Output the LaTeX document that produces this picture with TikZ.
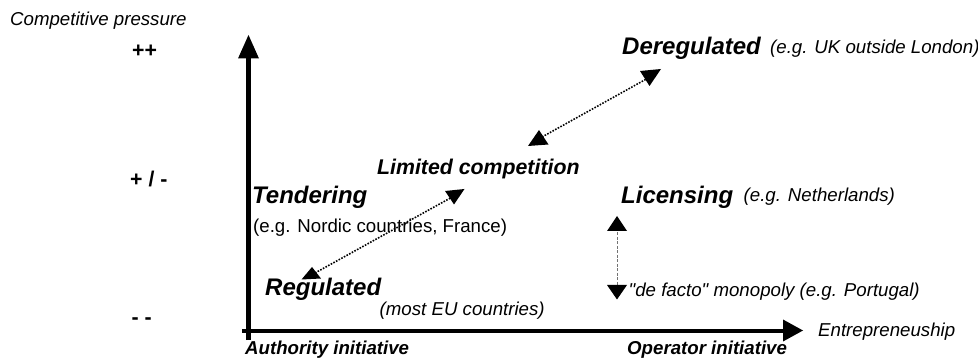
\documentclass[tikz,border=0pt]{standalone}
\usepackage{fontspec}
\setmainfont{Liberation Sans}[Ligatures=TeXOff]
\begin{document}
\begin{tikzpicture}[x=1pt,y=-1pt,
  txt/.style={inner sep=0pt, anchor=base west},
  note/.style={txt, font=\fontsize{18.67}{22}\selectfont\itshape},
  plain/.style={txt, font=\fontsize{18.67}{22}\selectfont},
  regime/.style={txt, font=\fontsize{24}{28}\selectfont\bfseries\itshape},
  midregime/.style={txt, font=\fontsize{21.3}{25}\selectfont\bfseries\itshape},
  level/.style={txt, font=\fontsize{21.3}{25}\selectfont\bfseries},
  pole/.style={txt, font=\fontsize{18.67}{22}\selectfont\bfseries\itshape},
  axisline/.style={line width=4.3pt},
  tiphead/.style={fill=black},
  dotline/.style={line width=1.6pt, dash pattern=on 1.6pt off 1.4pt},
  thinline/.style={line width=0.6pt, black!55, dash pattern=on 3pt off 1.5pt}]
\useasboundingbox (0,0) rectangle (978,358);

% axes
\coordinate (yfoot) at (248.5,340);
\coordinate (ytop) at (248.5,57);
\coordinate (xfoot) at (242,331);
\coordinate (xend) at (784,331);
\draw[axisline] (yfoot) -- (ytop);
\draw[axisline] (xfoot) -- (xend);
\fill[tiphead] (248.5,35) -- (259,58.5) -- (238,58.5) -- cycle;
\fill[tiphead] (803,330.5) -- (783,341.5) -- (783,319.5) -- cycle;

% axis captions
\node[note] (cp) at (10,26) {Competitive pressure};
\node[note] (ent) at (818,337) {Entrepreneuship};
\node[pole] (auth) at (245,355) {Authority initiative};
\node[pole] (oper) at (627,355) {Operator initiative};

% levels of competitive pressure
\node[level] (hi) at (132,57.5) {++};
\node[level] (mid) at (130,187) {+ / -};
\node[level] (lo) at (131.5,324.5) {- -};

% regimes
\node[regime] (dereg) at (622,55) {Deregulated};
\node[note] (deregx) at (770,53.5) {(e.g. UK outside London)};
\node[midregime] (limited) at (377,175) {Limited competition};
\node[regime] (tender) at (252,204) {Tendering};
\node[plain] (tenderx) at (253,233) {(e.g. Nordic countries, France)};
\node[regime] (lic) at (621,203.5) {Licensing};
\node[note] (licx) at (743.5,202) {(e.g. Netherlands)};
\node[regime] (reg) at (265,296) {Regulated};
\node[note] (regx) at (379.5,315.5) {(most EU countries)};
\node[note] (mono) at (628.5,297) {"de facto" monopoly (e.g. Portugal)};

% limited competition <-> deregulated
\coordinate (a1) at (542,137);
\coordinate (b1) at (650,77);
\draw[dotline] (a1) -- (b1);
\fill[tiphead] (539,130) -- (548.5,144.5) -- (528,146) -- cycle;
\fill[tiphead] (640,71) -- (661,69) -- (649.5,86) -- cycle;

% regulated <-> limited competition
\coordinate (a2) at (315,273);
\coordinate (b2) at (454,196);
\draw[dotline] (a2) -- (b2);
\fill[tiphead] (312,267) -- (321,278.5) -- (301.5,279.5) -- cycle;
\fill[tiphead] (445,191) -- (464.5,189) -- (454,204.5) -- cycle;

% monopoly <-> licensing
\coordinate (a3) at (617,228);
\coordinate (b3) at (617,287);
\draw[thinline] (a3) -- (b3);
\fill[tiphead] (617,216) -- (627,231) -- (607,231) -- cycle;
\fill[tiphead] (607,285) -- (627,285) -- (617,299.5) -- cycle;
\end{tikzpicture}
\end{document}
